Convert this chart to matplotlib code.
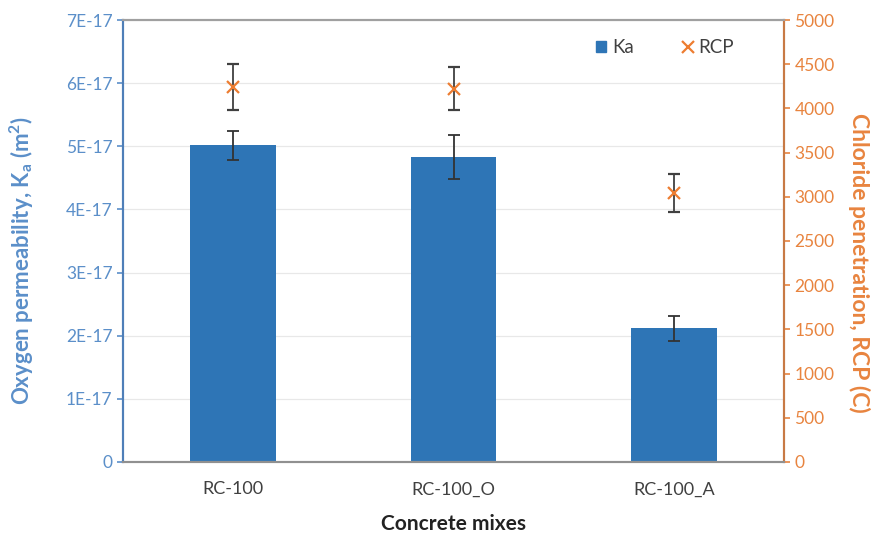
import numpy as np
import matplotlib.pyplot as plt
from matplotlib.lines import Line2D
from matplotlib.patches import Patch

## Donnees
mixes = ["RC-100", "RC-100_O", "RC-100_A"]
ka = [5.02e-17, 4.83e-17, 2.12e-17]
ka_err = [0.23e-17, 0.35e-17, 0.20e-17]
rcp = [4240, 4225, 3045]
rcp_err = [260, 245, 215]

ka_ticks = [0, 1e-17, 2e-17, 3e-17, 4e-17, 5e-17, 6e-17, 7e-17]
ka_ticklabels = ["0", "1E-17", "2E-17", "3E-17", "4E-17", "5E-17", "6E-17", "7E-17"]
rcp_ticks = list(range(0, 5001, 500))

blue = "#2E75B6"
orange = "#ED7D31"
label_blue = "#5B8FC9"
label_orange = "#E8843F"

plt.rcParams['font.family'] = ['Lato', 'DejaVu Sans']

fig = plt.figure(figsize=(8.94, 5.45), dpi=100)
ax = fig.add_axes([0.1376, 0.1523, 0.7394, 0.811])
ax2 = ax.twinx()

x = np.arange(len(mixes))

## Barres Ka
ax.bar(x, ka, width=0.39, color=blue, zorder=2)
ax.errorbar(x, ka, yerr=ka_err, fmt="none", ecolor="#333333", elinewidth=1.3,
            capsize=4, capthick=1.3, zorder=3)
ax.set_ylim(0, 7e-17)
ax.set_xlim(-0.5, 2.5)
ax.set_yticks(ka_ticks)
ax.set_yticklabels(ka_ticklabels)
ax.grid(axis="y", color="#e8e8e8", linewidth=0.9, zorder=0)
ax.set_axisbelow(True)

## RCP
ax2.errorbar(x, rcp, yerr=rcp_err, fmt="x", color=orange, markersize=8,
             markeredgewidth=1.6, ecolor="#404040", elinewidth=1.3,
             capsize=4, capthick=1.3, zorder=3)
ax2.set_ylim(0, 5000)
ax2.set_yticks(rcp_ticks)

## Axes
ax.set_xticks(x)
ax.set_xticklabels(mixes, fontsize=13, color="#404040")
ax.tick_params(axis="x", length=0, pad=14)
ax.tick_params(axis="y", colors=label_blue, labelsize=12.5, length=4, width=1.2, direction="out")
ax2.tick_params(axis="y", colors=label_orange, labelsize=12.5, length=4, width=1.2, direction="out")

for a in (ax, ax2):
    a.spines["top"].set_color("#a0a0a0")
    a.spines["top"].set_linewidth(1.5)
    a.spines["bottom"].set_color("#909090")
    a.spines["bottom"].set_linewidth(1.5)
    a.spines["left"].set_color("#4F7FB8")
    a.spines["left"].set_linewidth(1.5)
    a.spines["right"].set_color("#C87A45")
    a.spines["right"].set_linewidth(1.5)

ax.set_xlabel("Concrete mixes", fontsize=15, fontweight="bold", color="#222222", labelpad=12)
ax.set_ylabel("Oxygen permeability, K$_\\mathregular{a}$ (m$^\\mathregular{2}$)", fontsize=16,
              fontweight="bold", color=label_blue)
ax.yaxis.set_label_coords(-0.132, 0.455)
ax2.set_ylabel("Chloride penetration, RCP (C)", fontsize=16.5, fontweight="bold",
               color=label_orange, rotation=270)
ax2.yaxis.set_label_coords(1.130, 0.45)

## Legende
handles = [Patch(color=blue), Line2D([], [], ls="none", marker="x", color=orange,
                                     markersize=8, markeredgewidth=1.6)]
leg = ax2.legend(handles, ["Ka", "RCP"], loc="upper right", bbox_to_anchor=(0.95, 0.995), ncol=2,
                 frameon=False, fontsize=13.5, handlelength=0.55, handleheight=0.55,
                 handletextpad=0.3, columnspacing=2.6)
for t in leg.get_texts():
    t.set_color("#404040")

fig.savefig("out.png", dpi=100)
